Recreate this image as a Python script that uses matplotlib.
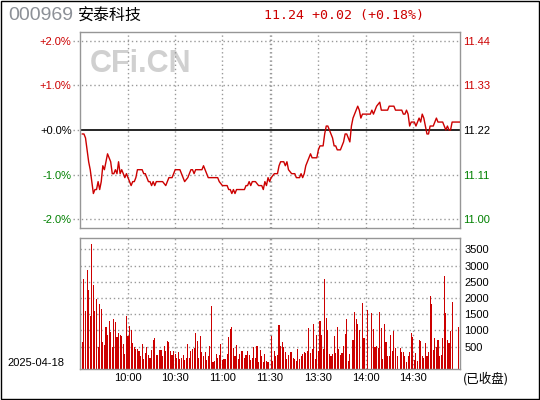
import matplotlib
matplotlib.use("Agg")
import matplotlib.pyplot as plt
from matplotlib.patches import Rectangle

# ---- data ----
code = "000969"
name = "安泰科技"
prev_close = 11.22
last_price = 11.24
trade_date = "2025-04-18"

# x index: 0 = 9:30 ... 120 = 11:30, 121 = 13:00 ... 241 = 15:00
time_ticks = [30, 60, 90, 120, 151, 181, 211]
time_labels = ["10:00", "10:30", "11:00", "11:30", "13:30", "14:00", "14:30"]
grid_x = [30, 60, 90, 120, 121, 151, 181, 211]

pct_ticks = [2, 1, 0, -1, -2]
vol_ticks = [500, 1000, 1500, 2000, 2500, 3000, 3500]

price_idx = [1, 2, 3, 4, 5, 6, 7, 8, 9, 10, 11, 12, 13, 14, 15, 16, 17, 18, 19, 20,
             21, 22, 23, 24, 25, 26, 27, 28, 29, 30, 31, 32, 33, 34, 35, 36, 39, 40, 41, 42,
             43, 44, 45, 46, 47, 48, 50, 52, 54, 55, 56, 58, 59, 60, 63, 64, 65, 66, 68, 69,
             70, 71, 72, 73, 77, 78, 79, 80, 81, 87, 88, 90, 93, 94, 95, 96, 97, 98, 99, 104,
             105, 106, 107, 108, 109, 111, 113, 115, 116, 117, 118, 119, 120, 121, 123, 125, 126, 127, 129, 130,
             131, 132, 134, 136, 137, 139, 140, 141, 142, 143, 144, 145, 146, 147, 150, 151, 152, 154, 155, 156,
             157, 158, 159, 160, 161, 162, 163, 165, 166, 167, 168, 169, 170, 171, 172, 173, 174, 175, 176, 177,
             178, 179, 184, 185, 186, 188, 190, 191, 195, 196, 199, 200, 204, 205, 206, 207, 208, 209, 210, 212,
             213, 214, 215, 216, 217, 218, 219, 220, 221, 222, 224, 225, 226, 227, 230, 231, 232, 233, 234, 235,
             236, 241]
price = [11.21, 11.21, 11.20, 11.17, 11.14, 11.12, 11.09, 11.06, 11.07, 11.07, 11.09, 11.07, 11.09, 11.13, 11.12, 11.14, 11.16, 11.15, 11.14, 11.11,
         11.11, 11.12, 11.11, 11.14, 11.11, 11.12, 11.11, 11.10, 11.11, 11.10, 11.09, 11.08, 11.09, 11.09, 11.10, 11.12, 11.12, 11.11, 11.11, 11.10,
         11.09, 11.09, 11.08, 11.09, 11.08, 11.09, 11.09, 11.09, 11.08, 11.09, 11.10, 11.10, 11.11, 11.12, 11.12, 11.11, 11.10, 11.09, 11.10, 11.11,
         11.12, 11.12, 11.11, 11.12, 11.12, 11.13, 11.12, 11.11, 11.10, 11.10, 11.09, 11.08, 11.08, 11.07, 11.07, 11.06, 11.07, 11.06, 11.07, 11.07,
         11.08, 11.08, 11.09, 11.08, 11.09, 11.09, 11.08, 11.08, 11.07, 11.09, 11.08, 11.10, 11.09, 11.10, 11.11, 11.11, 11.13, 11.14, 11.14, 11.13,
         11.14, 11.12, 11.11, 11.11, 11.10, 11.10, 11.11, 11.10, 11.11, 11.13, 11.14, 11.15, 11.16, 11.15, 11.15, 11.17, 11.18, 11.18, 11.21, 11.23,
         11.23, 11.22, 11.21, 11.20, 11.18, 11.18, 11.17, 11.17, 11.18, 11.19, 11.21, 11.21, 11.20, 11.19, 11.23, 11.25, 11.26, 11.27, 11.28, 11.27,
         11.25, 11.26, 11.26, 11.27, 11.26, 11.28, 11.29, 11.27, 11.27, 11.28, 11.28, 11.27, 11.27, 11.26, 11.26, 11.27, 11.26, 11.23, 11.24, 11.24,
         11.23, 11.24, 11.25, 11.24, 11.26, 11.25, 11.23, 11.21, 11.21, 11.23, 11.23, 11.24, 11.25, 11.24, 11.24, 11.23, 11.22, 11.23, 11.22, 11.22,
         11.24, 11.24]

# minute volume (lots), morning bars at index 1..119, afternoon at 121..240
vol_am = [660, 2590, 1610, 2870, 2260, 1460, 3670, 2410, 1610, 1980,
          500, 1820, 1670, 660, 560, 1120, 870, 1300, 960, 500,
          1360, 1270, 810, 930, 870, 840, 590, 290, 1460, 840,
          1150, 1030, 630, 500, 440, 440, 380, 230, 590, 130,
          320, 500, 260, 160, 410, 720, 780, 260, 260, 410,
          410, 200, 530, 380, 690, 660, 380, 260, 380, 290,
          160, 350, 130, 160, 260, 100, 160, 590, 160, 380,
          440, 470, 930, 690, 160, 840, 350, 200, 350, 100,
          200, 530, 1760, 40, 70, 290, 160, 260, 590, 100,
          130, 130, 290, 810, 1060, 1120, 470, 230, 560, 130,
          290, 380, 380, 160, 260, 380, 260, 100, 160, 500,
          160, 530, 40, 410, 200, 40, 290, 70, 40]
vol_pm = [840, 70, 380, 230, 260, 1180, 530, 660, 500, 350,
          130, 260, 350, 350, 160, 130, 70, 440, 130, 200,
          290, 350, 320, 380, 1090, 320, 440, 1210, 130, 870,
          380, 1300, 870, 440, 2590, 1390, 1030, 290, 230, 290,
          840, 320, 1120, 440, 260, 320, 530, 900, 1360, 70,
          290, 0, 720, 1580, 1360, 1210, 1030, 0, 1860, 780,
          0, 1640, 0, 0, 1550, 1060, 500, 530, 470, 1580,
          1090, 130, 1210, 660, 230, 230, 870, 380, 990, 470,
          230, 0, 470, 350, 350, 200, 40, 200, 350, 930,
          810, 100, 320, 70, 720, 690, 230, 160, 630, 230,
          350, 2050, 1820, 410, 780, 500, 720, 230, 260, 780,
          2670, 1550, 720, 630, 990, 1890, 0, 0, 0, 1120]

# ---- styling ----
RED = "#cc0000"
GREEN = "#008000"
GRID = "#999999"
SPINE = "#969696"
DOT = (0, (1, 2))
vol_floor = -185

plt.rcParams['font.family'] = ['Liberation Sans', 'Noto Sans CJK SC']

fig = plt.figure(figsize=(5.4, 4.0), dpi=100)
ax = fig.add_axes([80/540, 172/400, 380/540, 196/400])
vax = fig.add_axes([80/540, 31/400, 380/540, 131/400])

# price panel
pct = [(p / prev_close - 1) * 100 for p in price]
ax.set_xlim(-0.5, 241)
ax.set_ylim(-2.2, 2.2)
for gx in grid_x:
    ax.axvline(gx, color=GRID, lw=1, ls=DOT, zorder=1)
for p in pct_ticks:
    if p == 0:
        ax.axhline(0, xmin=-0.018, xmax=0, color=GRID, lw=1, ls=DOT, clip_on=False)
        ax.axhline(0, color='black', lw=1.2, zorder=2)
    else:
        ax.axhline(p, xmin=-0.018, xmax=1.0, color=GRID, lw=1, ls=DOT, clip_on=False, zorder=1)
ax.plot(price_idx, pct, color=RED, lw=1.0, zorder=3)

label_colors = [RED, RED, 'black', GREEN, GREEN]
ax.set_xticks([])
ax.set_yticks(pct_ticks)
ax.set_yticklabels(["%+.1f%%" % p if p != 0 else "+0.0%" for p in pct_ticks])
ax.tick_params(axis='y', length=0, pad=6, labelsize=8)
for lbl, c in zip(ax.get_yticklabels(), label_colors):
    lbl.set_color(c)

rax = ax.twinx()
rax.set_ylim(ax.get_ylim())
rax.set_yticks(pct_ticks)
rax.set_yticklabels(["%.2f" % (prev_close * (1 + p / 100)) for p in pct_ticks])
rax.tick_params(axis='y', length=0, pad=2, labelsize=8)
for lbl, c in zip(rax.get_yticklabels(), label_colors):
    lbl.set_color(c)
for s in rax.spines.values():
    s.set_visible(False)
for s in ax.spines.values():
    s.set_color(SPINE)
    s.set_linewidth(1.0)

ax.text(90/540, 1 - 64/400, "CFi.CN", transform=fig.transFigure, fontsize=22,
        fontweight='bold', color='#d0d0d0', va='center', ha='left', zorder=0.5)

# volume panel
vax.set_xlim(-0.5, 241)
vax.set_ylim(vol_floor, 3847)
for gx in grid_x:
    vax.axvline(gx, color=GRID, lw=1, ls=DOT, zorder=1)
for v in vol_ticks:
    vax.axhline(v, color=GRID, lw=1, ls=DOT, zorder=1)

bx = [i + 1 for i, v in enumerate(vol_am) if v > 0] + [i + 121 for i, v in enumerate(vol_pm) if v > 0]
bv = [v for v in vol_am if v > 0] + [v for v in vol_pm if v > 0]
vax.bar(bx, [v - vol_floor for v in bv], bottom=vol_floor, width=0.7, color=RED,
        antialiased=False, zorder=2)

vax.yaxis.tick_right()
vax.set_yticks(vol_ticks)
vax.set_yticklabels([str(v) for v in vol_ticks])
vax.set_xticks(time_ticks)
vax.set_xticklabels(time_labels)
vax.tick_params(axis='both', length=0, labelsize=8)
vax.tick_params(axis='y', pad=3)
vax.tick_params(axis='x', pad=3)
for s in vax.spines.values():
    s.set_color(SPINE)
    s.set_linewidth(1.0)

# header and footer texts
fig.text(8/540, 1 - 16/400, code, fontsize=14, color='#8c9097', va='center', ha='left',
         family='Liberation Sans')
fig.text(78/540, 1 - 16/400, name, fontsize=11.5, color='black', va='center', ha='left',
         family='Noto Sans CJK SC')
chg = last_price - prev_close
fig.text(264/540, 1 - 16/400, "%.2f %+.2f (%+.2f%%)" % (last_price, chg, chg / prev_close * 100),
         fontsize=9.5, color=RED, va='center', ha='left', family='DejaVu Sans Mono')
fig.text(7/540, 1 - 363/400, trade_date, fontsize=8, color='black', va='center', ha='left')
fig.text(463/540, 1 - 379/400, "(已收盘)", fontsize=9, color='black', va='center', ha='left',
         family=['Noto Sans CJK SC', 'DejaVu Sans'])

fig.patches.append(Rectangle((0.5/540, 1.5/400), 538/540, 398/400, transform=fig.transFigure,
                             fill=False, edgecolor='black', lw=1.0))

fig.savefig("out.png", dpi=100)
